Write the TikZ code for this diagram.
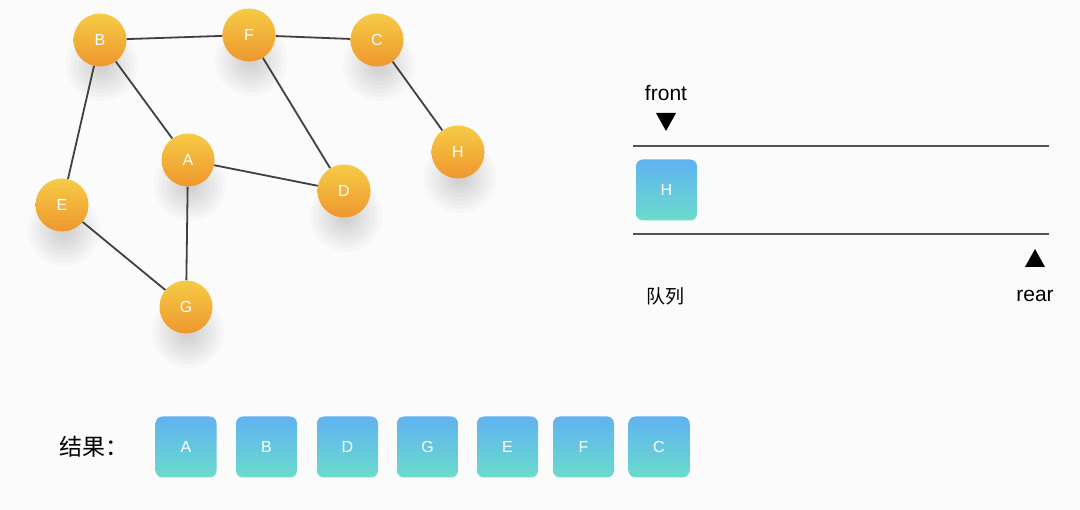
\documentclass[tikz,border=0pt]{standalone}
\usepackage{fontspec}
\setmainfont{Liberation Sans}
\newfontfamily\cjk{Noto Sans CJK SC}
\usetikzlibrary{backgrounds}
\definecolor{bg}{HTML}{FBFBFB}
\definecolor{otop}{HTML}{F6CB45}
\definecolor{obot}{HTML}{EE972E}
\definecolor{btop}{HTML}{60B2F2}
\definecolor{bbot}{HTML}{6ADCCB}
\definecolor{edge}{HTML}{404040}
\tikzset{
  vertex/.style={circle, minimum size=53pt, inner sep=0pt, top color=otop, bottom color=obot, text=white, font=\fontsize{16}{16}\selectfont},
  gedge/.style={draw=edge, line width=1.8pt},
  qbox/.style={rounded corners=7pt, minimum width=61pt, minimum height=61pt, inner sep=0pt, top color=btop, bottom color=bbot, text=white, font=\fontsize{16}{16}\selectfont},
  qline/.style={draw=edge!90, line width=1.5pt},
  tri/.style={fill=black, draw=none},
  lbl/.style={inner sep=0pt, font=\fontsize{21}{21}\selectfont},
}
\begin{document}
\begin{tikzpicture}[x=1pt,y=-1pt]
\useasboundingbox (0,0) rectangle (1080,510);
% graph
\node[vertex] (B) at (100,40) {B};
\node[vertex] (F) at (249,35) {F};
\node[vertex] (C) at (377,40) {C};
\node[vertex] (H) at (458,152) {H};
\node[vertex] (A) at (188,160) {A};
\node[vertex] (D) at (344,191) {D};
\node[vertex] (E) at (62,205) {E};
\node[vertex] (G) at (186,307) {G};
\begin{scope}[on background layer]
  \fill[bg] (0,0) rectangle (1080,510);
  \foreach \n in {A,B,C,D,E,F,G,H}{
    \foreach \r in {8,12,...,36}{
      \fill[black,opacity=0.02] ([shift={(2,25)}]\n.center) circle (\r pt);
    }
  }
  \draw[gedge] (B) -- (F);
  \draw[gedge] (F) -- (C);
  \draw[gedge] (C) -- (H);
  \draw[gedge] (B) -- (A);
  \draw[gedge] (B) -- (E);
  \draw[gedge] (F) -- (D);
  \draw[gedge] (A) -- (D);
  \draw[gedge] (A) -- (G);
  \draw[gedge] (E) -- (G);
\end{scope}
% queue
\node[lbl] (front) at (666,93) {front};
\coordinate (ftri) at (666,122);
\fill[tri] ([shift={(-10,-9)}]ftri) -- ([shift={(10,-9)}]ftri) -- ([shift={(0,9)}]ftri) -- cycle;
\coordinate (q1l) at (633,146);
\coordinate (q1r) at (1049,146);
\coordinate (q2l) at (633,234);
\coordinate (q2r) at (1049,234);
\draw[qline] (q1l) -- (q1r);
\draw[qline] (q2l) -- (q2r);
\node[qbox] (qH) at (666.5,190) {H};
\coordinate (rtri) at (1035,258);
\fill[tri] ([shift={(-10,9)}]rtri) -- ([shift={(10,9)}]rtri) -- ([shift={(0,-9)}]rtri) -- cycle;
\node[lbl] (rear) at (1035,296) {rear};
\node[inner sep=0pt, font=\cjk\fontsize{19}{19}\selectfont] (dl) at (665,296) {队列};
% result
\node[inner sep=0pt, font=\cjk\fontsize{23}{23}\selectfont] (res) at (94,447) {结果：};
\node[qbox] (rA) at (186,447) {A};
\node[qbox] (rB) at (266.5,447) {B};
\node[qbox] (rD) at (347.5,447) {D};
\node[qbox] (rG) at (427.5,447) {G};
\node[qbox] (rE) at (507.5,447) {E};
\node[qbox] (rF) at (583.5,447) {F};
\node[qbox] (rC) at (659,447) {C};
\end{tikzpicture}
\end{document}
